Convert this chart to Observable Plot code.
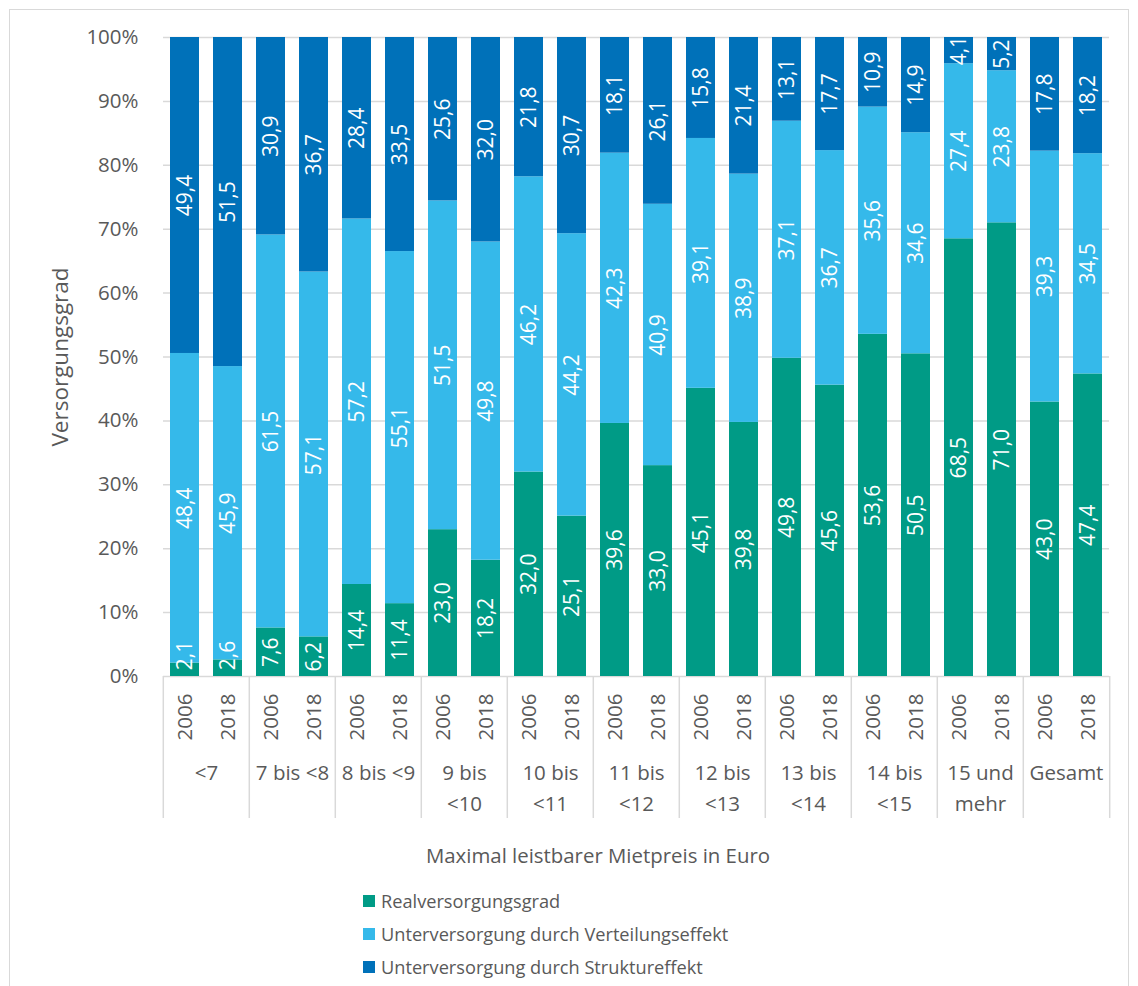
<!DOCTYPE html>
<html>
<head>
<meta charset="utf-8">
<script src="https://cdn.jsdelivr.net/npm/d3@7"></script>
<script src="https://cdn.jsdelivr.net/npm/@observablehq/plot@0.6"></script>
<style>
  html, body { margin: 0; padding: 0; background: #fff; overflow: hidden; }
  #wrap { position: relative; width: 1138px; height: 986px; font-family: "Open Sans", sans-serif; color: #595959; }
  #border { position: absolute; left: 9px; top: 9px; width: 1120px; height: 1000px; border: 1.5px solid #d9d9d9; box-sizing: border-box; }
  #chart { position: absolute; left: 0; top: 0; }
  #ytitle { position: absolute; left: 60px; top: 357px; transform: translate(-50%, -50%) rotate(-90deg); font-size: 22.5px; white-space: nowrap; line-height: 1; }
  #xtitle { position: absolute; left: 0; width: 1196px; top: 840px; text-align: center; font-size: 20.4px; line-height: 30px; }
  #legend { position: absolute; left: 363px; top: 884px; font-size: 18.2px; }
  .item { display: flex; align-items: center; height: 33px; }
  .sw { width: 12px; height: 12px; margin-right: 6px; }
</style>
</head>
<body>
<div id="wrap">
  <div id="border"></div>
  <div id="chart"></div>
  <div id="ytitle">Versorgungsgrad</div>
  <div id="xtitle">Maximal leistbarer Mietpreis in Euro</div>
  <div id="legend"></div>
</div>
<script>
const groups = ["<7","7 bis <8","8 bis <9","9 bis <10","10 bis <11","11 bis <12","12 bis <13","13 bis <14","14 bis <15","15 und mehr","Gesamt"];
const groupLabels = ["<7","7 bis <8","8 bis <9","9 bis\n<10","10 bis\n<11","11 bis\n<12","12 bis\n<13","13 bis\n<14","14 bis\n<15","15 und\nmehr","Gesamt"];
const years = ["2006","2018"];
const series = ["Realversorgungsgrad","Unterversorgung durch Verteilungseffekt","Unterversorgung durch Struktureffekt"];
const colors = ["#009B86","#35B9EA","#0071B9"];
const real  = [2.1,2.6,7.6,6.2,14.4,11.4,23.0,18.2,32.0,25.1,39.6,33.0,45.1,39.8,49.8,45.6,53.6,50.5,68.5,71.0,43.0,47.4];
const vert  = [48.4,45.9,61.5,57.1,57.2,55.1,51.5,49.8,46.2,44.2,42.3,40.9,39.1,38.9,37.1,36.7,35.6,34.6,27.4,23.8,39.3,34.5];
const struk = [49.4,51.5,30.9,36.7,28.4,33.5,25.6,32.0,21.8,30.7,18.1,26.1,15.8,21.4,13.1,17.7,10.9,14.9,4.1,5.2,17.8,18.2];
const yTicks = [0,0.1,0.2,0.3,0.4,0.5,0.6,0.7,0.8,0.9,1];

const values = [real, vert, struk];
const rows = [];
groups.forEach((g, gi) => years.forEach((yr, yi) => {
  const i = gi * 2 + yi;
  series.forEach((s, si) => rows.push({group: g, year: yr, series: s, value: values[si][i], small: si === 0 && values[si][i] < 5}));
}));

const W = 1138, H = 830, mL = 158, mR = 25, mT = 37, mB = 154;
const plotH = H - mT - mB;
const facetW = (W - mL - mR) / groups.length;
const half = facetW / 4;
const fmt = v => v.toFixed(1).replace(".", ",");

const chart = Plot.plot({
  width: W, height: H,
  marginLeft: mL, marginRight: mR, marginTop: mT, marginBottom: mB,
  style: {fontFamily: "Open Sans", fontSize: "20px", color: "#595959", background: "transparent", overflow: "visible"},
  fx: {domain: groups, padding: 0, axis: null},
  x: {domain: years, paddingInner: 0.336, paddingOuter: 0.168, axis: null},
  y: {domain: [0, 1], axis: null},
  color: {domain: series, range: colors},
  marks: [
    Plot.gridY(yTicks, {stroke: "#d9d9d9", strokeOpacity: 1, strokeWidth: 1.5}),
    Plot.axisY(yTicks, {tickSize: 0, tickPadding: 25, tickFormat: d => Math.round(d * 100) + "%", fontSize: 20.5, label: null}),
    Plot.barY(rows, Plot.stackY({offset: "normalize", fx: "group", x: "year", y: "value", fill: "series"})),
    Plot.text(rows, Plot.stackY({offset: "normalize", fx: "group", x: "year", y: "value", z: "series",
      text: d => d.small ? "" : fmt(d.value), rotate: -90, fill: "white", fontSize: 21})),
    Plot.text(rows.filter(d => d.small), {fx: "group", x: "year", y: () => 0, dy: -21,
      text: d => fmt(d.value), rotate: -90, fill: "white", fontSize: 21}),
    Plot.axisX({tickSize: 0, tickPadding: 17, tickRotate: -90, fontSize: 20.5, label: null}),
    Plot.ruleX(groups, {fx: d => d, x: () => "2006", dx: -half, insetTop: plotH, insetBottom: -142, stroke: "#d9d9d9", strokeWidth: 1.5}),
    Plot.ruleX(groups.slice(-1), {fx: d => d, x: () => "2018", dx: half, insetTop: plotH, insetBottom: -142, stroke: "#d9d9d9", strokeWidth: 1.5}),
    Plot.text(groups, {fx: d => d, text: (d, i) => groupLabels[i], frameAnchor: "bottom", lineAnchor: "top", dy: 82, lineHeight: 1.5, fontSize: 20.5, fill: "#595959"})
  ]
});
document.getElementById("chart").appendChild(chart);

const legend = document.getElementById("legend");
series.forEach((s, i) => {
  const it = document.createElement("div");
  it.className = "item";
  const sw = document.createElement("span");
  sw.className = "sw";
  sw.style.background = colors[i];
  const tx = document.createElement("span");
  tx.textContent = s;
  it.appendChild(sw); it.appendChild(tx);
  legend.appendChild(it);
});
</script>
</body>
</html>
